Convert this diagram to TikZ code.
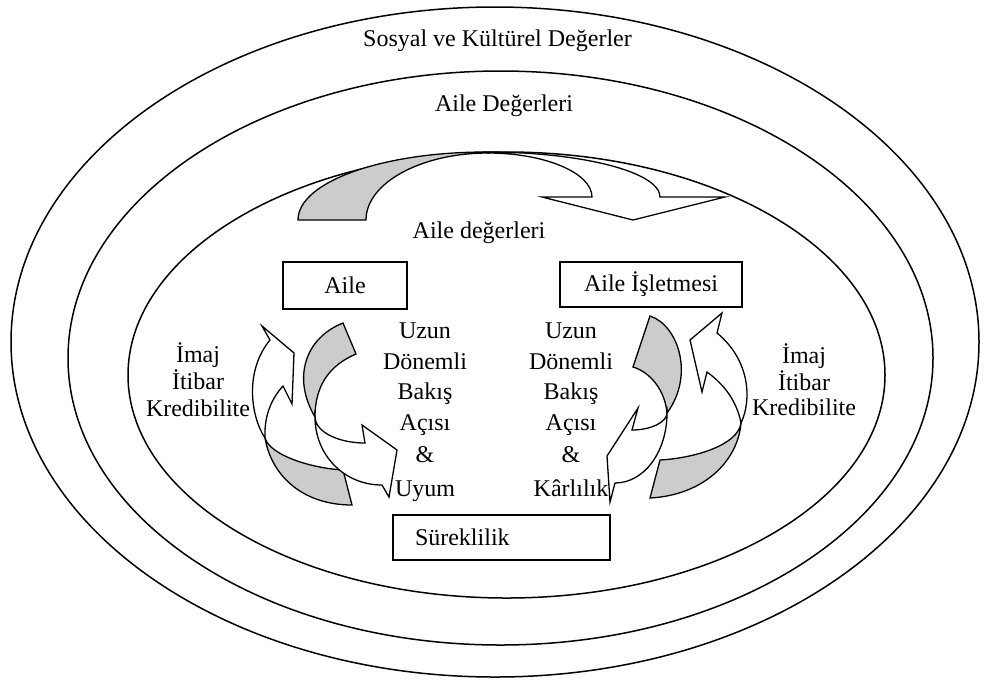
\documentclass[tikz,border=0pt]{standalone}
\usepackage{fontspec}
\setmainfont{Liberation Serif}
\begin{document}
\begin{tikzpicture}[x=0.5pt,y=-0.5pt,
  ring/.style={draw,line width=0.75pt},
  band/.style={draw,line width=0.65pt,line join=miter,miter limit=20},
  backface/.style={band,fill=gray!40},
  frontface/.style={band,fill=white},
  lbl/.style={font=\fontsize{12}{14}\selectfont,inner sep=0pt,anchor=base},
  box/.style={draw,line width=0.65pt,inner sep=0pt,font=\fontsize{12}{14}\selectfont}]
\useasboundingbox (0,0) rectangle (990,682);
% rings
\draw[ring] (495,342) ellipse [x radius=242pt, y radius=167.5pt];
\draw[ring] (500.5,358) ellipse [x radius=216.25pt, y radius=143.5pt];
\draw[ring] (506.5,375) ellipse [x radius=189.25pt, y radius=111.5pt];
% ring labels
\node[lbl] (sosyal) at (497.5,46.5) {Sosyal ve Kültürel Değerler};
\node[lbl] (aileD) at (504,111) {Aile Değerleri};
\node[lbl] (ailed) at (479,238) {Aile değerleri};
% top curved arrow
\draw[backface] (298,220) .. controls (298,182) and (382,152) .. (486,152)
  -- (488,153) .. controls (421,153) and (366,183) .. (366,220) -- cycle;
\draw[frontface] (486,152) .. controls (582,152) and (660,172) .. (660,197)
  -- (725,197) -- (633,220) -- (542,197) -- (592,197)
  .. controls (592,173) and (545,153) .. (488,153) -- cycle;
% boxes
\node[box,minimum width=62pt,minimum height=23.5pt] (aile) at (345,285.5) {Aile};
\node[box,minimum width=91pt,minimum height=22.5pt] (isletme) at (651,284.5) {Aile İşletmesi};
\node[box,minimum width=108.5pt,minimum height=22.5pt,text width=108.5pt,inner xsep=0pt,align=left] (sureklilik) at (501.5,537.5) {\hspace*{11pt}Süreklilik};
% left arrow B (white up, gray bottom)
\draw[backface] (265,438) .. controls (270,455) and (310,468) .. (343,470)
  -- (352,505) .. controls (305,505) and (272,478) .. (265,438) -- cycle;
\draw[frontface] (265,438) .. controls (250,415) and (245,370) .. (270,340)
  -- (262,326) -- (294,353) -- (292,404) -- (283,386)
  .. controls (272,398) and (264,415) .. (265,438) -- cycle;
% left arrow A (gray top, white lower right)
\draw[backface] (343,323) .. controls (305,338) and (292,378) .. (315,417)
  .. controls (315,385) and (330,365) .. (356,354) -- cycle;
\draw[frontface] (315,417) .. controls (315,455) and (344,485) .. (382,485)
  -- (389,497) -- (397,450) -- (362,425) -- (365,443)
  .. controls (337,443) and (315,431) .. (315,417) -- cycle;
% right arrow D (white up, gray bottom)
\draw[backface] (741,423) .. controls (738,445) and (695,458) .. (660,460)
  -- (650,498) .. controls (705,495) and (738,460) .. (741,423) -- cycle;
\draw[frontface] (741,423) .. controls (752,400) and (750,360) .. (717,333)
  -- (722,313) -- (690,340) -- (702,392) -- (707,372)
  .. controls (725,385) and (737,402) .. (741,423) -- cycle;
% right arrow C (gray top, white lower left)
\draw[backface] (650,316) .. controls (678,325) and (695,375) .. (667,413)
  .. controls (665,390) and (650,372) .. (633,367) -- cycle;
\draw[frontface] (667,413) .. controls (667,452) and (644,483) .. (615,483)
  -- (610,502) -- (607,456) -- (638,408) -- (632,430)
  .. controls (651,430) and (667,422) .. (667,413) -- cycle;
% left column
\node[lbl] (l1) at (425,338) {Uzun};
\node[lbl] (l2) at (425,369) {Dönemli};
\node[lbl] (l3) at (425,399) {Bakış};
\node[lbl] (l4) at (425,430) {Açısı};
\node[lbl] (l5) at (425,462) {\&};
\node[lbl] (l6) at (425,496) {Uyum};
% right column
\node[lbl] (r1) at (571,338) {Uzun};
\node[lbl] (r2) at (571,369) {Dönemli};
\node[lbl] (r3) at (571,399) {Bakış};
\node[lbl] (r4) at (571,430) {Açısı};
\node[lbl] (r5) at (571,462) {\&};
\node[lbl] (r6) at (571,496) {Kârlılık};
% image labels
\node[lbl] (li1) at (198,362) {İmaj};
\node[lbl] (li2) at (198,389) {İtibar};
\node[lbl] (li3) at (198,416) {Kredibilite};
\node[lbl] (ri1) at (804,363) {İmaj};
\node[lbl] (ri2) at (804,390) {İtibar};
\node[lbl] (ri3) at (804,415) {Kredibilite};
\end{tikzpicture}
\end{document}
